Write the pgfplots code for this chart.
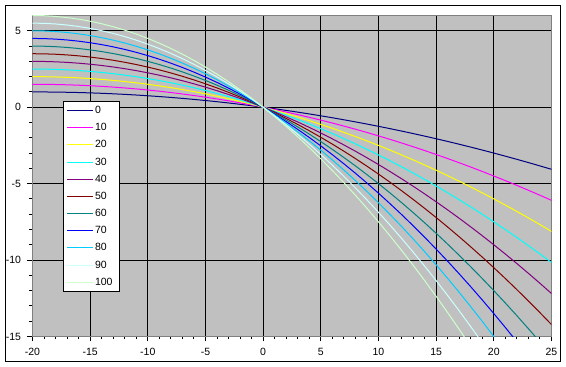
\documentclass[border=0pt]{standalone}
\usepackage{fontspec}
\setmainfont{Liberation Sans}
\usepackage{pgfplots}
\usepackage{pgfplotstable}
\pgfplotsset{compat=1.18}
\definecolor{c0}{HTML}{000080}
\definecolor{c10}{HTML}{FF00FF}
\definecolor{c20}{HTML}{FFFF00}
\definecolor{c30}{HTML}{00FFFF}
\definecolor{c40}{HTML}{800080}
\definecolor{c50}{HTML}{800000}
\definecolor{c60}{HTML}{008080}
\definecolor{c70}{HTML}{0000FF}
\definecolor{c80}{HTML}{00CCFF}
\definecolor{c90}{HTML}{CCFFFF}
\definecolor{c100}{HTML}{CCFFCC}
\definecolor{plotbg}{HTML}{C0C0C0}
\definecolor{plotborder}{HTML}{808080}
\pgfplotstableread{
x p0 p10 p20 p30 p40 p50 p60 p70 p80 p90 p100
-20 1 1.5 2 2.5 3 3.5 4 4.5 5 5.5 6
-19 0.9975 1.4963 1.995 2.4938 2.9925 3.4913 3.99 4.4888 4.9875 5.4863 5.985
-18 0.99 1.485 1.98 2.475 2.97 3.465 3.96 4.455 4.95 5.445 5.94
-17 0.9775 1.4663 1.955 2.4438 2.9325 3.4213 3.91 4.3988 4.8875 5.3763 5.865
-16 0.96 1.44 1.92 2.4 2.88 3.36 3.84 4.32 4.8 5.28 5.76
-15 0.9375 1.4063 1.875 2.3438 2.8125 3.2813 3.75 4.2188 4.6875 5.1563 5.625
-14 0.91 1.365 1.82 2.275 2.73 3.185 3.64 4.095 4.55 5.005 5.46
-13 0.8775 1.3163 1.755 2.1938 2.6325 3.0713 3.51 3.9488 4.3875 4.8263 5.265
-12 0.84 1.26 1.68 2.1 2.52 2.94 3.36 3.78 4.2 4.62 5.04
-11 0.7975 1.1963 1.595 1.9938 2.3925 2.7913 3.19 3.5888 3.9875 4.3863 4.785
-10 0.75 1.125 1.5 1.875 2.25 2.625 3 3.375 3.75 4.125 4.5
-9 0.6975 1.0463 1.395 1.7438 2.0925 2.4413 2.79 3.1388 3.4875 3.8363 4.185
-8 0.64 0.96 1.28 1.6 1.92 2.24 2.56 2.88 3.2 3.52 3.84
-7 0.5775 0.8663 1.155 1.4438 1.7325 2.0213 2.31 2.5988 2.8875 3.1763 3.465
-6 0.51 0.765 1.02 1.275 1.53 1.785 2.04 2.295 2.55 2.805 3.06
-5 0.4375 0.6563 0.875 1.0938 1.3125 1.5313 1.75 1.9688 2.1875 2.4063 2.625
-4 0.36 0.54 0.72 0.9 1.08 1.26 1.44 1.62 1.8 1.98 2.16
-3 0.2775 0.4163 0.555 0.6938 0.8325 0.9713 1.11 1.2488 1.3875 1.5263 1.665
-2 0.19 0.285 0.38 0.475 0.57 0.665 0.76 0.855 0.95 1.045 1.14
-1 0.0975 0.1463 0.195 0.2438 0.2925 0.3413 0.39 0.4388 0.4875 0.5363 0.585
0 0 0 0 0 0 0 0 0 0 0 0
1 -0.1025 -0.1538 -0.205 -0.2563 -0.3075 -0.3588 -0.41 -0.4613 -0.5125 -0.5638 -0.615
2 -0.21 -0.315 -0.42 -0.525 -0.63 -0.735 -0.84 -0.945 -1.05 -1.155 -1.26
3 -0.3225 -0.4838 -0.645 -0.8063 -0.9675 -1.1288 -1.29 -1.4513 -1.6125 -1.7738 -1.935
4 -0.44 -0.66 -0.88 -1.1 -1.32 -1.54 -1.76 -1.98 -2.2 -2.42 -2.64
5 -0.5625 -0.8438 -1.125 -1.4063 -1.6875 -1.9688 -2.25 -2.5313 -2.8125 -3.0938 -3.375
6 -0.69 -1.035 -1.38 -1.725 -2.07 -2.415 -2.76 -3.105 -3.45 -3.795 -4.14
7 -0.8225 -1.2338 -1.645 -2.0563 -2.4675 -2.8788 -3.29 -3.7013 -4.1125 -4.5238 -4.935
8 -0.96 -1.44 -1.92 -2.4 -2.88 -3.36 -3.84 -4.32 -4.8 -5.28 -5.76
9 -1.1025 -1.6538 -2.205 -2.7563 -3.3075 -3.8588 -4.41 -4.9613 -5.5125 -6.0638 -6.615
10 -1.25 -1.875 -2.5 -3.125 -3.75 -4.375 -5 -5.625 -6.25 -6.875 -7.5
11 -1.4025 -2.1038 -2.805 -3.5063 -4.2075 -4.9088 -5.61 -6.3113 -7.0125 -7.7138 -8.415
12 -1.56 -2.34 -3.12 -3.9 -4.68 -5.46 -6.24 -7.02 -7.8 -8.58 -9.36
13 -1.7225 -2.5838 -3.445 -4.3063 -5.1675 -6.0288 -6.89 -7.7513 -8.6125 -9.4738 -10.335
14 -1.89 -2.835 -3.78 -4.725 -5.67 -6.615 -7.56 -8.505 -9.45 -10.395 -11.34
15 -2.0625 -3.0938 -4.125 -5.1563 -6.1875 -7.2188 -8.25 -9.2813 -10.3125 -11.3438 -12.375
16 -2.24 -3.36 -4.48 -5.6 -6.72 -7.84 -8.96 -10.08 -11.2 -12.32 -13.44
17 -2.4225 -3.6338 -4.845 -6.0563 -7.2675 -8.4788 -9.69 -10.9013 -12.1125 -13.3238 -14.535
18 -2.61 -3.915 -5.22 -6.525 -7.83 -9.135 -10.44 -11.745 -13.05 -14.355 -15.66
19 -2.8025 -4.2038 -5.605 -7.0063 -8.4075 -9.8088 -11.21 -12.6113 -14.0125 -15.4138 -16.815
20 -3 -4.5 -6 -7.5 -9 -10.5 -12 -13.5 -15 -16.5 -18
21 -3.2025 -4.8038 -6.405 -8.0063 -9.6075 -11.2088 -12.81 -14.4113 -16.0125 -17.6138 -19.215
22 -3.41 -5.115 -6.82 -8.525 -10.23 -11.935 -13.64 -15.345 -17.05 -18.755 -20.46
23 -3.6225 -5.4338 -7.245 -9.0563 -10.8675 -12.6788 -14.49 -16.3013 -18.1125 -19.9238 -21.735
24 -3.84 -5.76 -7.68 -9.6 -11.52 -13.44 -15.36 -17.28 -19.2 -21.12 -23.04
25 -4.0625 -6.0938 -8.125 -10.1563 -12.1875 -14.2188 -16.25 -18.2813 -20.3125 -22.3438 -24.375
}\curves
\begin{document}
\begin{tikzpicture}[x=1pt,y=1pt]
\fill[white] (0,0) rectangle (566,367);
\draw[black, line width=1pt] (5.5,5.5) rectangle (560.5,361.5);
\begin{axis}[
  at={(32.5pt,30.5pt)}, anchor=south west,
  scale only axis, width=519pt, height=321pt,
  xmin=-20, xmax=25, ymin=-15, ymax=6,
  xtick={-20,-15,...,25}, ytick={-15,-10,...,5},
  minor x tick num=4, minor y tick num=4,
  xtick pos=lower, ytick pos=left,
  tick align=outside,
  major tick length=5pt, minor tick length=3pt,
  tick style={black, line width=1pt},
  grid=major,
  major grid style={black, line width=1pt},
  minor grid style={draw=none},
  axis line style={draw=plotborder, line width=1pt},
  axis background/.style={fill=plotbg},
  /pgf/number format/assume math mode=true,
  ticklabel style={font=\fontsize{10.5}{12}\selectfont},
  xticklabel style={yshift=-3pt},
  yticklabel style={xshift=-3pt},
  legend cell align=left,
  legend image code/.code={\draw[#1, line width=1pt] (0pt,0pt) -- (26pt,0pt);},
  legend style={at={(0.0588,0.7336)}, anchor=north west,
    draw=black, line width=1pt, fill=white,
    inner xsep=3pt, inner ysep=3pt, row sep=5.17pt,
    font=\fontsize{10.5}{12}\selectfont,
    nodes={inner sep=1pt, text height=8pt, text depth=2pt},
    /tikz/every odd column/.append style={column sep=0.5pt},
    /tikz/every even column/.append style={text width=20pt}},
  every axis plot/.append style={line width=1pt},
]
\addplot[c0] table[x=x,y=p0] {\curves};
\addplot[c10] table[x=x,y=p10] {\curves};
\addplot[c20] table[x=x,y=p20] {\curves};
\addplot[c30] table[x=x,y=p30] {\curves};
\addplot[c40] table[x=x,y=p40] {\curves};
\addplot[c50] table[x=x,y=p50] {\curves};
\addplot[c60] table[x=x,y=p60] {\curves};
\addplot[c70] table[x=x,y=p70] {\curves};
\addplot[c80] table[x=x,y=p80] {\curves};
\addplot[c90] table[x=x,y=p90] {\curves};
\addplot[c100] table[x=x,y=p100] {\curves};
\legend{0,10,20,30,40,50,60,70,80,90,100}
\end{axis}
\end{tikzpicture}
\end{document}
